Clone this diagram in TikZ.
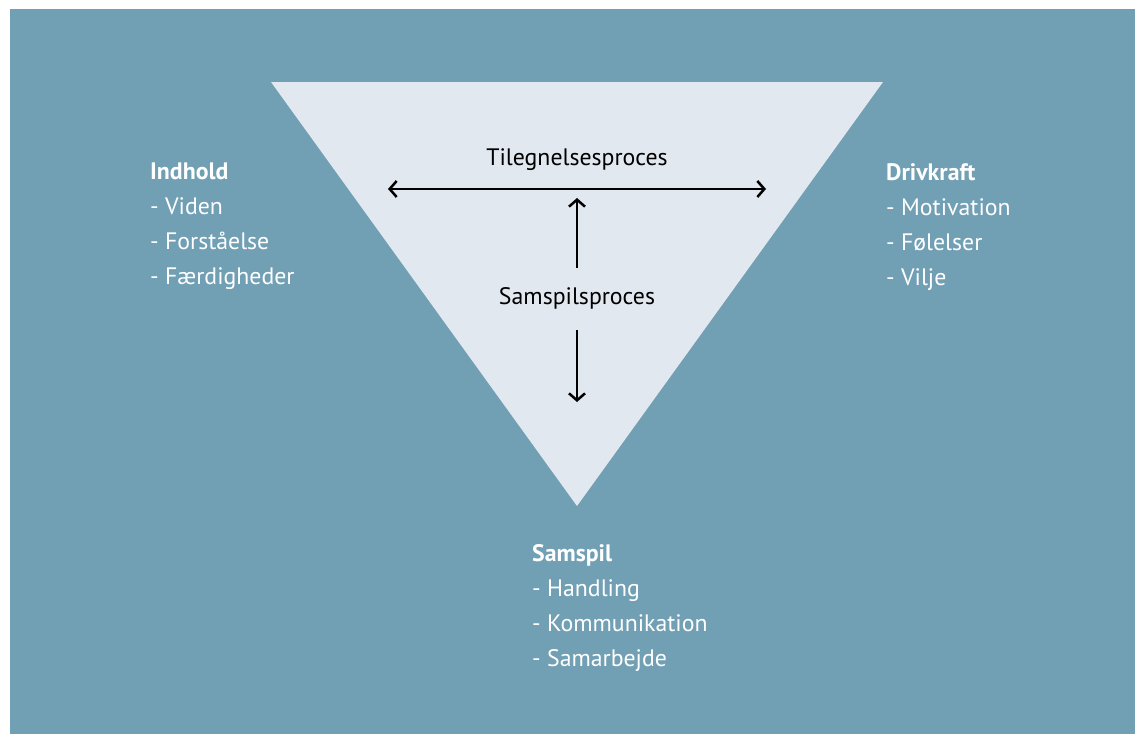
\documentclass[tikz,border=0pt]{standalone}
\usepackage{fontspec}
\setmainfont{PT Sans}
\usetikzlibrary{arrows.meta}
\definecolor{bgblue}{HTML}{719FB4}
\definecolor{trifill}{HTML}{E1E8EF}
\tikzset{
  lbl/.style={text=white, font=\fontsize{23.8}{35}\selectfont, align=left, anchor=north west, inner sep=0pt},
  inlbl/.style={text=black, font=\fontsize{23.8}{28}\selectfont, inner sep=0pt},
  arr/.style={line width=2.5pt, -{Straight Barb[length=7pt,width=16pt,line width=2.5pt]}},
}
\begin{document}
\begin{tikzpicture}[x=1pt,y=-1pt]
\useasboundingbox (0,0) rectangle (1135,734);
\fill[white] (0,0) rectangle (1135,734);
\fill[bgblue] (10,9) rectangle (1135,734);
\fill[trifill] (271,82) -- (883,82) -- (577,506) -- cycle;
\node[inlbl] (tp) at (577,160) {Tilegnelsesproces};
\node[inlbl] (sp) at (577,298) {Samspilsproces};
\coordinate (hl) at (388,189);
\coordinate (hr) at (766,189);
\coordinate (hm) at (577,189);
\draw[arr] (hm) -- (hl);
\draw[arr] (hm) -- (hr);
\coordinate (ub) at (577,268);
\coordinate (ut) at (577,198);
\draw[arr] (ub) -- (ut);
\coordinate (dt) at (577,330);
\coordinate (db) at (577,402);
\draw[arr] (dt) -- (db);
\node[lbl] (ind) at (150,163) {\textbf{Indhold}\\- Viden\\- Forståelse\\- Færdigheder};
\node[lbl] (drv) at (886,163) {\textbf{Drivkraft}\\- Motivation\\- Følelser\\- Vilje};
\node[lbl] (sam) at (532,544) {\textbf{Samspil}\\- Handling\\- Kommunikation\\- Samarbejde};
\end{tikzpicture}
\end{document}
